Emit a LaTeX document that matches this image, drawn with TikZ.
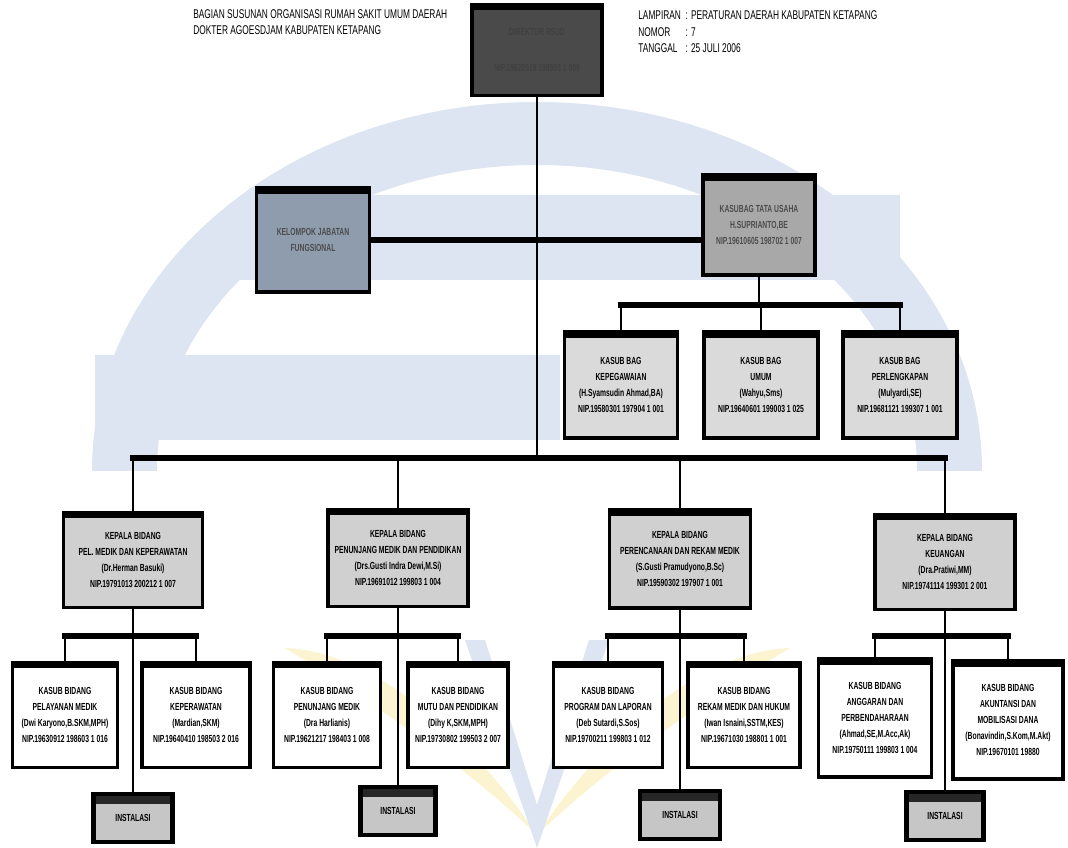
\documentclass[tikz,border=0pt]{standalone}
\usepackage{fontspec}
\setmainfont{Liberation Sans}[FakeStretch=0.66]
\usepackage{tikz}
\usetikzlibrary{positioning}
\definecolor{wmblue}{HTML}{DCE5F1}
\definecolor{wmyellow}{HTML}{FCF4D0}
\definecolor{dirgray}{HTML}{4A4A4A}
\definecolor{fungsigray}{HTML}{8F9CAE}
\definecolor{tugray}{HTML}{A8A8A8}
\definecolor{baggray}{HTML}{DADADA}
\definecolor{kabidgray}{HTML}{D0D0D0}
\definecolor{instgray}{HTML}{C6C6C6}

\begin{document}
\begin{tikzpicture}[x=0.025cm,y=-0.025cm]

\tikzset{org box/.style 2 args={
		draw=black, line width=2.6pt, fill=kabidgray,
		align=center, inner sep=1pt, anchor=center,
		minimum width=#1*0.025cm, minimum height=#2*0.025cm,
		font=\fontsize{7.3}{11.4}\selectfont\bfseries,
		path picture={\fill[black] (path picture bounding box.north west)
			rectangle ([yshift=-4pt]path picture bounding box.north east);}
	},
	inst box/.style={org box={#1}{48}, line width=3.4pt, fill=instgray,
		path picture={\fill[black!85] (path picture bounding box.north west)
			rectangle ([yshift=-7pt]path picture bounding box.north east);}},
	bus/.style={line width=4.2pt, line cap=rect},
	drop/.style={line width=2pt},
	head/.style={anchor=north west, inner sep=0pt, align=left,
		font=\fontsize{9}{11.6}\selectfont}
}

\useasboundingbox (0,0) rectangle (1068,848);

% watermark
\begin{scope}
	\clip (0,0) rectangle (1068,470);
	\fill[wmblue, even odd rule] (537,470) ellipse [x radius=445, y radius=368]
		(537,470) ellipse [x radius=380, y radius=305];
\end{scope}
\fill[wmblue] (240,195) rectangle (900,280);
\fill[wmblue] (95,355) rectangle (560,440);
\fill[wmyellow] (537,835) .. controls (460,720) and (360,650) .. (285,648)
	.. controls (370,700) and (470,770) .. (537,835);
\fill[wmyellow] (537,835) .. controls (614,720) and (714,650) .. (790,648)
	.. controls (704,700) and (604,770) .. (537,835);
\fill[wmblue] (465,640) -- (485,640) -- (537,805) -- (589,640) -- (609,640) -- (537,848) -- cycle;

% headings
\node[head] (title) at (193,9) {BAGIAN SUSUNAN ORGANISASI RUMAH SAKIT UMUM DAERAH\\
	DOKTER AGOESDJAM KABUPATEN KETAPANG};
\node[head] (lampiran) at (638,8) {\begin{tabular}{@{}l@{\ \ }l@{}}
		LAMPIRAN & : PERATURAN DAERAH KABUPATEN KETAPANG\\
		NOMOR & : 7\\
		TANGGAL & : 25 JULI 2006
	\end{tabular}};

% boxes
\node[org box={130}{91}, fill=dirgray, text=black!75] (dir) at (537,50)
	{DIREKTUR RSUD\\[14pt] NIP.19620519 198903 1 009};
\node[org box={113}{104}, fill=fungsigray, text=black!70] (kjf) at (313,240)
	{KELOMPOK JABATAN\\ FUNGSIONAL};
\node[org box={112}{100}, fill=tugray, text=black!70] (tu) at (759,225)
	{KASUBAG TATA USAHA\\ H.SUPRIANTO,BE\\ NIP.19610605 198702 1 007};

\node[org box={113}{106}, fill=baggray] (kbg1) at (621,385)
	{KASUB BAG\\ KEPEGAWAIAN\\ (H.Syamsudin Ahmad,BA)\\ NIP.19580301 197904 1 001};
\node[org box={114}{106}, fill=baggray] (kbg2) at (761,385)
	{KASUB BAG\\ UMUM\\ (Wahyu,Sms)\\ NIP.19640601 199003 1 025};
\node[org box={114}{106}, fill=baggray] (kbg3) at (900,385)
	{KASUB BAG\\ PERLENGKAPAN\\ (Mulyardi,SE)\\ NIP.19681121 199307 1 001};

\node[org box={139}{95}] (kb1) at (133,560)
	{KEPALA BIDANG\\ PEL. MEDIK DAN KEPERAWATAN\\ (Dr.Herman Basuki)\\ NIP.19791013 200212 1 007};
\node[org box={140}{97}] (kb2) at (398,558)
	{KEPALA BIDANG\\ PENUNJANG MEDIK DAN PENDIDIKAN\\ (Drs.Gusti Indra Dewi,M.Si)\\ NIP.19691012 199803 1 004};
\node[org box={141}{98}] (kb3) at (680,559)
	{KEPALA BIDANG\\ PERENCANAAN DAN REKAM MEDIK\\ (S.Gusti Pramudyono,B.Sc)\\ NIP.19590302 197907 1 001};
\node[org box={140}{95}] (kb4) at (945,562)
	{KEPALA BIDANG\\ KEUANGAN\\ (Dra.Pratiwi,MM)\\ NIP.19741114 199301 2 001};

\node[org box={105}{105}, fill=white] (ks1) at (65,715)
	{KASUB BIDANG\\ PELAYANAN MEDIK\\ (Dwi Karyono,B.SKM,MPH)\\ NIP.19630912 198603 1 016};
\node[org box={108}{105}, fill=white] (ks2) at (196,715)
	{KASUB BIDANG\\ KEPERAWATAN\\ (Mardian,SKM)\\ NIP.19640410 198503 2 016};
\node[org box={107}{105}, fill=white] (ks3) at (327,715)
	{KASUB BIDANG\\ PENUNJANG MEDIK\\ (Dra Harlianis)\\ NIP.19621217 198403 1 008};
\node[org box={100}{105}, fill=white] (ks4) at (458,715)
	{KASUB BIDANG\\ MUTU DAN PENDIDIKAN\\ (Dihy K,SKM,MPH)\\ NIP.19730802 199503 2 007};
\node[org box={109}{105}, fill=white] (ks5) at (608,715)
	{KASUB BIDANG\\ PROGRAM DAN LAPORAN\\ (Deb Sutardi,S.Sos)\\ NIP.19700211 199803 1 012};
\node[org box={112}{105}, fill=white] (ks6) at (744,715)
	{KASUB BIDANG\\ REKAM MEDIK DAN HUKUM\\ (Iwan Isnaini,SSTM,KES)\\ NIP.19671030 198801 1 001};
\node[org box={113}{118}, fill=white] (ks7) at (875,718)
	{KASUB BIDANG\\ ANGGARAN DAN\\ PERBENDAHARAAN\\ (Ahmad,SE,M.Acc,Ak)\\ NIP.19750111 199803 1 004};
\node[org box={110}{118}, fill=white] (ks8) at (1008,720)
	{KASUB BIDANG\\ AKUNTANSI DAN\\ MOBILISASI DANA\\ (Bonavindin,S.Kom,M.Akt)\\ NIP.19670101 19880};

\node[inst box=79] (inst1) at (133,818) {INSTALASI};
\node[inst box=75] (inst2) at (398,811) {INSTALASI};
\node[inst box=80] (inst3) at (680,815) {INSTALASI};
\node[inst box=77] (inst4) at (945,816) {INSTALASI};

% connectors
\coordinate (main bus) at (537,458);
\coordinate (bag bus) at (759,305);
\coordinate (sub bus) at (0,636);

\draw[drop] (dir.south) -- (main bus);
\draw[bus] (kjf.east) -- (kjf.east -| tu.west);
\draw[drop] (tu.south) -- (bag bus);
\draw[bus] (kbg1.north |- bag bus) -- (kbg3.north |- bag bus);
\foreach \n in {kbg1,kbg2,kbg3}
	\draw[drop] (\n.north |- bag bus) -- (\n.north);
\draw[bus] (kb1.north |- main bus) -- (kb4.north |- main bus);
\foreach \n in {kb1,kb2,kb3,kb4}
	\draw[drop] (\n.north |- main bus) -- (\n.north);
\foreach \k/\a/\b/\i in {kb1/ks1/ks2/inst1, kb2/ks3/ks4/inst2, kb3/ks5/ks6/inst3, kb4/ks7/ks8/inst4}{
	\draw[drop] (\k.south) -- (\i.north);
	\draw[bus] (\a.north |- sub bus) -- (\b.north |- sub bus);
	\draw[drop] (\a.north |- sub bus) -- (\a.north);
	\draw[drop] (\b.north |- sub bus) -- (\b.north);
}

\end{tikzpicture}
\end{document}
